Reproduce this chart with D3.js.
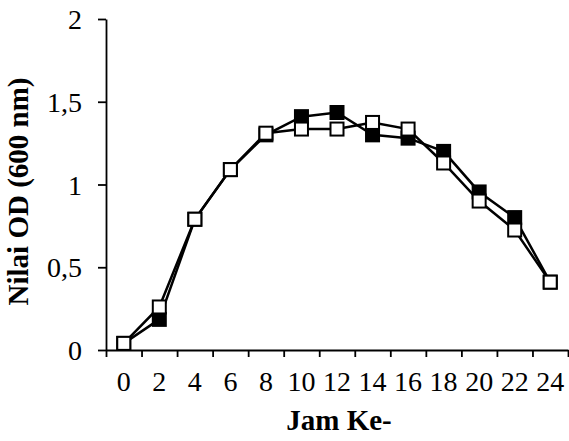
<!DOCTYPE html>
<html>
<head>
<meta charset="utf-8">
<script src="https://cdn.jsdelivr.net/npm/d3@7"></script>
<style>
  body { margin: 0; background: #fff; }
  text { font-family: "Liberation Serif", "Times New Roman", serif; }
</style>
</head>
<body>
<div id="chart"></div>
<script>
// Data
var hours = ["0", "2", "4", "6", "8", "10", "12", "14", "16", "18", "20", "22", "24"];
var filledSeries = [0.04, 0.185, 0.79, 1.09, 1.30, 1.41, 1.435, 1.30, 1.28, 1.20, 0.955, 0.80, 0.41];
var openSeries = [0.04, 0.26, 0.79, 1.09, 1.31, 1.335, 1.335, 1.375, 1.335, 1.13, 0.90, 0.725, 0.41];
var yTicks = [0, 0.5, 1, 1.5, 2];

var svgWidth = 569;
var svgHeight = 441;

var margin = { top: 19, right: 1, bottom: 91, left: 106 };
var width = svgWidth - margin.left - margin.right;
var height = svgHeight - margin.top - margin.bottom;

var svg = d3.select("#chart")
    .append("svg")
    .attr("width", svgWidth)
    .attr("height", svgHeight);

var g = svg.append("g")
    .attr("transform", `translate(${margin.left}, ${margin.top})`);

// Scales
var xScale = d3.scaleBand()
    .domain(hours)
    .range([0, width]);

var edgeScale = d3.scaleLinear()
    .domain([0, hours.length])
    .range([0, width]);

var yScale = d3.scaleLinear()
    .domain([0, 2])
    .range([height, 0]);

// Y axis
var leftAxis = d3.axisLeft(yScale)
    .tickValues(yTicks)
    .tickSize(8)
    .tickSizeOuter(0)
    .tickPadding(16)
    .tickFormat(d => String(d).replace(".", ","));

var axisY = g.append("g").call(leftAxis);

// X axis: ticks between categories
var axisX = g.append("g")
    .attr("transform", `translate(0, ${height})`)
    .call(d3.axisBottom(edgeScale)
        .tickValues(d3.range(0, hours.length + 1))
        .tickSize(7)
        .tickSizeOuter(0)
        .tickFormat(""));

var labelsX = g.append("g")
    .attr("transform", `translate(0, ${height})`)
    .call(d3.axisBottom(xScale).tickSize(0).tickPadding(21));
labelsX.select(".domain").remove();

[axisX, axisY, labelsX].forEach(a => {
    a.selectAll("path, line").attr("stroke", "#000").attr("stroke-width", 1.8);
    a.selectAll("text").attr("font-size", 28).attr("fill", "#000")
        .style("font-family", "'Liberation Serif', 'Times New Roman', serif");
});
axisY.selectAll("text").attr("dy", "0.34em");

// Lines and markers
var line = d3.line()
    .x((d, i) => xScale(hours[i]) + xScale.bandwidth() / 2)
    .y(d => yScale(d));

function drawSeries(values, fill) {
    g.append("path")
        .datum(values)
        .attr("fill", "none")
        .attr("stroke", "#000")
        .attr("stroke-width", 2.5)
        .attr("d", line);

    g.append("g").selectAll("rect")
        .data(values)
        .enter()
        .append("rect")
        .attr("x", (d, i) => xScale(hours[i]) + xScale.bandwidth() / 2 - 6.5)
        .attr("y", d => yScale(d) - 6.5)
        .attr("width", 13)
        .attr("height", 13)
        .attr("fill", fill)
        .attr("stroke", "#000")
        .attr("stroke-width", 2);
}

drawSeries(filledSeries, "#000");
drawSeries(openSeries, "#fff");

// Axis titles
svg.append("text")
    .attr("x", margin.left + width / 2 + 2)
    .attr("y", 430)
    .attr("text-anchor", "middle")
    .attr("font-size", 29)
    .attr("font-weight", "bold")
    .text("Jam Ke-");

svg.append("text")
    .attr("transform", `translate(28, ${margin.top + height / 2 + 7}) rotate(-90)`)
    .attr("text-anchor", "middle")
    .attr("font-size", 29)
    .attr("font-weight", "bold")
    .text("Nilai OD (600 nm)");
</script>
</body>
</html>
